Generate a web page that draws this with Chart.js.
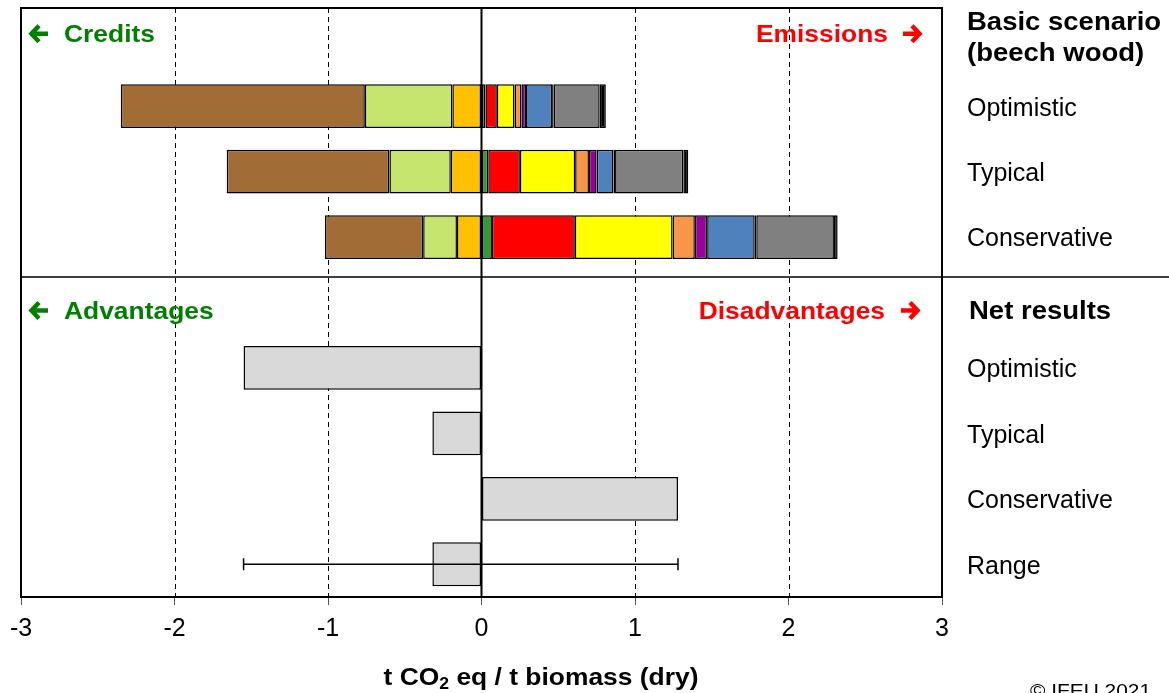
<!DOCTYPE html>
<html>
<head>
<meta charset="utf-8">
<script src="https://cdn.jsdelivr.net/npm/chart.js@4"></script>
<style>
  html, body { margin: 0; padding: 0; background: #fff; }
</style>
</head>
<body>
<canvas id="myChart" width="1169" height="693"></canvas>
<script>
// Rows from top to bottom (empty labels are the two header rows)
var rowLabels = ['', 'Optimistic', 'Typical', 'Conservative', '', 'Optimistic', 'Typical', 'Conservative', 'Range'];

// Basic scenario contributions (t CO2 eq / t biomass), rows 1-3
var goldCredit  = [null, -0.19, -0.20, -0.16, null, null, null, null, null];
var limeCredit  = [null, -0.57, -0.40, -0.22, null, null, null, null, null];
var brownCredit = [null, -1.59, -1.06, -0.64, null, null, null, null, null];
var greenEm     = [null, 0.026, 0.044, 0.068, null, null, null, null, null];
var redEm       = [null, 0.074, 0.206, 0.540, null, null, null, null, null];
var yellowEm    = [null, 0.115, 0.360, 0.637, null, null, null, null, null];
var orangeEm    = [null, 0.045, 0.090, 0.145, null, null, null, null, null];
var purpleEm    = [null, 0.030, 0.050, 0.080, null, null, null, null, null];
var blueEm      = [null, 0.170, 0.110, 0.310, null, null, null, null, null];
var darkEm      = [null, 0.010, 0.010, 0.010, null, null, null, null, null];
var grayEm      = [null, 0.300, 0.445, 0.506, null, null, null, null, null];
var blackEm     = [null, 0.040, 0.032, 0.024, null, null, null, null, null];

// Net results, rows 5-8
var netResults = [null, null, null, null, null, -1.55, -0.32, 1.28, -0.32];
var rangeLow = -1.55;
var rangeHigh = 1.28;

// x axis ticks
var xMin = -3, xMax = 3;

function seg(label, data, color) {
  return {
    label: label,
    data: data,
    backgroundColor: color,
    borderColor: '#000',
    borderWidth: 1.5,
    borderSkipped: false,
    stack: 's'
  };
}

// text stretched a little wider, like the original
function wideText(c, txt, x, y, align) {
  var sx = 1.1;
  var w = c.measureText(txt).width * sx;
  var left = align === 'right' ? x - w : (align === 'center' ? x - w / 2 : x);
  c.save();
  c.textAlign = 'left';
  c.translate(left, y);
  c.scale(sx, 1);
  c.fillText(txt, 0, 0);
  c.restore();
  return w;
}

function arrow(c, x, y, dir, color) {
  // dir -1 = left, 1 = right; x is the tip
  c.save();
  c.strokeStyle = color;
  c.lineWidth = 4.5;
  c.lineJoin = 'miter';
  c.lineCap = 'butt';
  c.beginPath();
  c.moveTo(x - dir * 9, y - 8);
  c.lineTo(x - dir * 1.5, y);
  c.lineTo(x - dir * 9, y + 8);
  c.moveTo(x - dir * 2, y);
  c.lineTo(x - dir * 18, y);
  c.stroke();
  c.restore();
}

var overlay = {
  id: 'overlay',
  beforeDatasetsDraw: function (chart) {
    var c = chart.ctx, a = chart.chartArea, x = chart.scales.x;
    c.save();
    c.strokeStyle = '#000';
    c.lineWidth = 1;
    c.setLineDash([5, 4]);
    for (var v = xMin + 1; v < xMax; v++) {
      if (v === 0) continue;
      var px = Math.round(x.getPixelForValue(v)) + 0.5;
      c.beginPath();
      c.moveTo(px, a.top);
      c.lineTo(px, a.bottom);
      c.stroke();
    }
    c.restore();
  },
  afterDatasetsDraw: function (chart) {
    var c = chart.ctx, a = chart.chartArea, x = chart.scales.x, y = chart.scales.y;
    c.save();
    c.strokeStyle = '#000';
    // zero line
    c.lineWidth = 2;
    var zx = x.getPixelForValue(0);
    c.beginPath();
    c.moveTo(zx, a.top);
    c.lineTo(zx, a.bottom);
    c.stroke();
    // frame
    c.strokeRect(a.left, a.top, a.right - a.left, a.bottom - a.top);
    // divider between the two panels
    c.lineWidth = 1.5;
    var dy = y.getPixelForValue(3.61);
    c.beginPath();
    c.moveTo(a.left, dy);
    c.lineTo(chart.width, dy);
    c.stroke();
    // range error bar
    var ry = y.getPixelForValue(8);
    var x1 = x.getPixelForValue(rangeLow), x2 = x.getPixelForValue(rangeHigh);
    c.beginPath();
    c.moveTo(x1, ry); c.lineTo(x2, ry);
    c.moveTo(x1, ry - 6); c.lineTo(x1, ry + 6);
    c.moveTo(x2, ry - 6); c.lineTo(x2, ry + 6);
    c.stroke();

    // panel headers
    c.textBaseline = 'middle';
    var y0 = y.getPixelForValue(0) - 7;
    var y4 = y.getPixelForValue(4) + 8;
    arrow(c, 30, y0, -1, '#008000');
    arrow(c, 30, y4, -1, '#008000');
    arrow(c, 921, y0, 1, '#FF0000');
    arrow(c, 919, y4, 1, '#FF0000');
    c.font = 'bold 24px "Liberation Sans", Arial, sans-serif';
    c.fillStyle = '#008000';
    wideText(c, 'Credits', 64, y0 + 2, 'left');
    wideText(c, 'Advantages', 64, y4 + 2, 'left');
    c.fillStyle = '#FF0000';
    wideText(c, 'Emissions', 888, y0 + 2, 'right');
    wideText(c, 'Disadvantages', 885, y4 + 2, 'right');

    // right side bold headers
    c.fillStyle = '#000';
    c.font = 'bold 25px "Liberation Sans", Arial, sans-serif';
    wideText(c, 'Basic scenario', 967, 23, 'left');
    wideText(c, '(beech wood)', 967, 54, 'left');
    wideText(c, 'Net results', 969, 312, 'left');

    // axis title with subscript
    var big = 'bold 24px "Liberation Sans", Arial, sans-serif';
    var small = 'bold 16px "Liberation Sans", Arial, sans-serif';
    var p1 = 't CO', p2 = '2', p3 = ' eq / t biomass (dry)';
    c.font = big; var w1 = c.measureText(p1).width * 1.1, w3 = c.measureText(p3).width * 1.1;
    c.font = small; var w2 = c.measureText(p2).width * 1.1;
    var tx = 541 - (w1 + w2 + w3) / 2, ty = 678;
    c.font = big; wideText(c, p1, tx, ty, 'left');
    c.font = small; wideText(c, p2, tx + w1, ty + 7, 'left');
    c.font = big; wideText(c, p3, tx + w1 + w2, ty, 'left');

    // copyright
    c.textBaseline = 'top';
    c.font = '19px "Liberation Sans", Arial, sans-serif';
    wideText(c, '\u00A9 IFEU 2021', 1030, 682, 'left');
    c.restore();
  }
};

var ctx = document.getElementById('myChart').getContext('2d');
Chart.defaults.font.family = '"Liberation Sans", Arial, sans-serif';
Chart.defaults.color = '#000';

var myChart = new Chart(ctx, {
  type: 'bar',
  data: {
    labels: rowLabels,
    datasets: [
      seg('gold', goldCredit, '#FFC000'),
      seg('lime', limeCredit, '#C6E56E'),
      seg('brown', brownCredit, '#A26C37'),
      seg('green', greenEm, '#339933'),
      seg('red', redEm, '#FF0000'),
      seg('yellow', yellowEm, '#FFFF00'),
      seg('orange', orangeEm, '#F79646'),
      seg('purple', purpleEm, '#990099'),
      seg('blue', blueEm, '#4F81BD'),
      seg('dark', darkEm, '#000000'),
      seg('gray', grayEm, '#808080'),
      seg('black', blackEm, '#000000'),
      seg('net', netResults, '#D9D9D9')
    ]
  },
  options: {
    responsive: false,
    animation: false,
    indexAxis: 'y',
    barPercentage: 0.67,
    categoryPercentage: 1,
    layout: { padding: { top: 8, left: 21, right: 0, bottom: 0 } },
    plugins: {
      legend: { display: false },
      tooltip: { enabled: false }
    },
    scales: {
      x: {
        stacked: true,
        min: xMin,
        max: xMax,
        ticks: { stepSize: 1, font: { size: 25 }, padding: 9, color: '#000' },
        grid: { drawOnChartArea: false, drawTicks: true, tickLength: 8, tickColor: '#555' },
        border: { display: false },
        afterFit: function (s) { s.height = 96; s.paddingLeft = 0; s.paddingRight = 0; }
      },
      y: {
        stacked: true,
        position: 'right',
        ticks: { font: { size: 25 }, padding: 25, labelOffset: 2.5, color: '#000' },
        grid: { display: false, drawTicks: false },
        border: { display: false },
        afterFit: function (s) { s.width = 227; s.paddingTop = 0; s.paddingBottom = 0; }
      }
    }
  },
  plugins: [overlay]
});
</script>
</body>
</html>
